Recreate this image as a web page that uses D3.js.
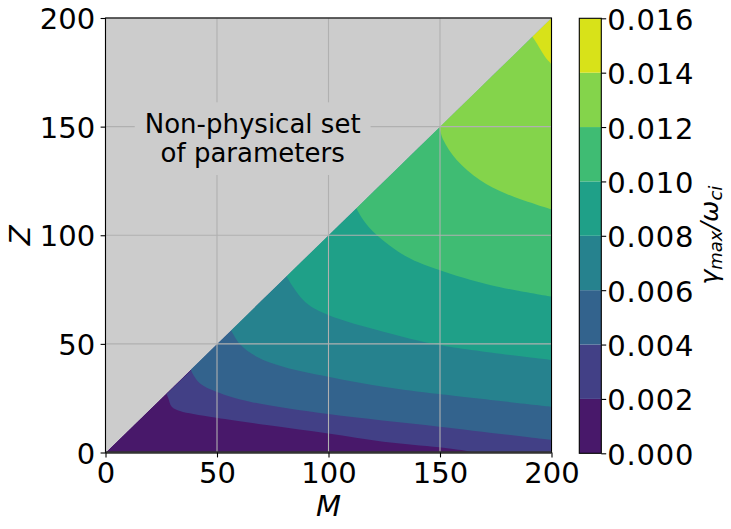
<!DOCTYPE html>
<html>
<head>
<meta charset="utf-8">
<script src="https://cdn.jsdelivr.net/npm/d3@7"></script>
<style>
  body { margin: 0; background: #fff; }
  text { font-family: "DejaVu Sans", sans-serif; fill: #000; }
</style>
</head>
<body>
<svg id="chart" width="731" height="529"></svg>
<script>
// contour levels of gamma_max / omega_ci
const levels = [0, 0.002, 0.004, 0.006, 0.008, 0.010, 0.012, 0.014, 0.016];
const mTicks = [0, 50, 100, 150, 200];
const zTicks = [0, 50, 100, 150, 200];
const cbTicks = [0, 0.002, 0.004, 0.006, 0.008, 0.010, 0.012, 0.014, 0.016];

// level lines as [M, Z] points, each one starts on the Z = M edge
const line002 = [[27.4, 26.9], [28.2, 24.9], [29.7, 21.1], [33.4, 19.1], [39.4, 17.7], [49.7, 16.0],
  [72.3, 12.7], [99.9, 8.8], [124.6, 5.0], [149.7, 2.4], [162, 0.7], [165, 0]];
const line004 = [[38.2, 38.3], [39.4, 35.7], [42.4, 31.8], [49.7, 28.0], [64.8, 23.4], [99.9, 17.7],
  [149.7, 11.9], [200, 5.8]];
const line006 = [[56.3, 56.4], [60.3, 49.8], [67.8, 44.1], [79.7, 39.5], [99.9, 34.9], [124.6, 30.3],
  [149.7, 26.9], [200, 21.1]];
const line008 = [[81.2, 81.2], [83.5, 77.1], [90.2, 68.7], [99.9, 63.3], [124.6, 55.6], [149.7, 49.5],
  [200, 42.6]];
const line010 = [[112.5, 112.4], [115.6, 107.0], [121.6, 100.1], [135.1, 90.1], [149.7, 84.0],
  [172.4, 77.1], [200, 71.7]];
const line012 = [[149.7, 149.7], [151.5, 143.8], [157.5, 134.6], [167.9, 125.4], [179.9, 119.0],
  [200, 111.9]];
const line014 = [[191.4, 191.5], [193.4, 188.4], [197.1, 182.2], [200, 178.8]];
const contourLines = [line002, line004, line006, line008, line010, line012, line014];

const svg = d3.select('#chart');
const plot = { left: 105.5, right: 551.5, top: 18, bottom: 452.5 };
const bar = { left: 579.3, right: 601.3 };
const fontSize = 29;

const x = d3.scaleLinear().domain([0, 200]).range([plot.left, plot.right]);
const y = d3.scaleLinear().domain([0, 200]).range([plot.bottom, plot.top]);
const cbY = d3.scaleLinear().domain([levels[0], levels[levels.length - 1]]).range([plot.bottom + 0.8, plot.top + 0.3]);

// band colours sit at the middle of each level interval
const bandColor = i => d3.interpolateViridis((i + 0.5) / (levels.length - 1));

const curve = d3.line().x(d => x(d[0])).y(d => y(d[1])).curve(d3.curveCatmullRom);

// lowest band fills the whole physical triangle
svg.append('path')
  .attr('d', 'M' + x(0) + ',' + y(0) + 'L' + x(200) + ',' + y(0) + 'L' + x(200) + ',' + y(200) + 'Z')
  .attr('fill', bandColor(0));

// every higher band is whatever lies beyond its level line
contourLines.forEach((pts, i) => {
  const last = pts[pts.length - 1];
  let d = curve(pts);
  if (last[1] === 0) {
    d += 'L' + x(200) + ',' + y(0);
  }
  d += 'L' + x(200) + ',' + y(200) + 'Z';
  svg.append('path')
    .attr('d', d)
    .attr('fill', bandColor(i + 1));
});

// non-physical half (Z > M)
svg.append('path')
  .attr('d', 'M' + x(0) + ',' + y(0) + 'L' + x(0) + ',' + y(200) + 'L' + x(200) + ',' + y(200) + 'Z')
  .attr('fill', '#cccccc');

// grid
const grid = svg.append('g').attr('stroke', '#b0b0b0').attr('stroke-width', 1.1);
mTicks.forEach(t => {
  grid.append('line').attr('x1', x(t)).attr('x2', x(t)).attr('y1', plot.top).attr('y2', plot.bottom);
});
zTicks.forEach(t => {
  grid.append('line').attr('x1', plot.left).attr('x2', plot.right).attr('y1', y(t)).attr('y2', y(t));
});

// annotation with a box that hides the grid
const note = svg.append('g');
const noteBox = note.append('rect').attr('fill', '#cccccc');
const noteText = note.append('text')
  .attr('text-anchor', 'middle')
  .attr('font-size', 26);
noteText.append('tspan').attr('x', x(66)).attr('y', 133.3).text('Non-physical set');
noteText.append('tspan').attr('x', x(66)).attr('y', 162).text('of parameters');
const nb = noteText.node().getBBox();
noteBox.attr('x', nb.x - 10).attr('y', nb.y - 7).attr('width', nb.width + 20).attr('height', nb.height + 14);

// spines
svg.append('rect')
  .attr('x', plot.left).attr('y', plot.top)
  .attr('width', plot.right - plot.left).attr('height', plot.bottom - plot.top)
  .attr('fill', 'none').attr('stroke', '#000').attr('stroke-width', 1.1);
svg.append('line')
  .attr('x1', plot.left).attr('x2', plot.right)
  .attr('y1', plot.bottom).attr('y2', plot.bottom)
  .attr('stroke', '#333').attr('stroke-width', 2.6);

// axes
const xAxis = svg.append('g')
  .attr('transform', 'translate(0,' + plot.bottom + ')')
  .call(d3.axisBottom(x).tickValues(mTicks).tickSize(4.9).tickPadding(5).tickFormat(d3.format('d')));
const yAxis = svg.append('g')
  .attr('transform', 'translate(' + plot.left + ',0)')
  .call(d3.axisLeft(y).tickValues(zTicks).tickSize(4.9).tickPadding(5.5).tickFormat(d3.format('d')));
[xAxis, yAxis].forEach(a => {
  a.select('.domain').remove();
  a.selectAll('line').attr('stroke', '#000').attr('stroke-width', 1.1);
  a.selectAll('text').attr('font-size', fontSize).attr('font-family', '"DejaVu Sans", sans-serif').attr('fill', '#000');
});
yAxis.selectAll('text').attr('dy', '0.37em');

svg.append('text')
  .attr('x', x(100)).attr('y', 516)
  .attr('text-anchor', 'middle')
  .attr('font-size', fontSize)
  .attr('font-style', 'italic')
  .text('M');
svg.append('text')
  .attr('transform', 'translate(30,' + ((plot.top + plot.bottom) / 2) + ') rotate(-90)')
  .attr('text-anchor', 'middle')
  .attr('font-size', fontSize)
  .attr('font-style', 'italic')
  .text('Z');

// colorbar
const cb = svg.append('g');
d3.range(levels.length - 1).forEach(i => {
  cb.append('rect')
    .attr('x', bar.left)
    .attr('y', cbY(levels[i + 1]))
    .attr('width', bar.right - bar.left)
    .attr('height', cbY(levels[i]) - cbY(levels[i + 1]))
    .attr('fill', bandColor(i));
});
cb.append('rect')
  .attr('x', bar.left).attr('y', cbY(levels[levels.length - 1]))
  .attr('width', bar.right - bar.left)
  .attr('height', cbY(levels[0]) - cbY(levels[levels.length - 1]))
  .attr('fill', 'none').attr('stroke', '#000').attr('stroke-width', 1.1);
const cbAxis = svg.append('g')
  .attr('transform', 'translate(' + bar.right + ',0)')
  .call(d3.axisRight(cbY).tickValues(cbTicks).tickSize(4.9).tickPadding(1).tickFormat(d3.format('.3f')));
cbAxis.select('.domain').remove();
cbAxis.selectAll('line').attr('stroke', '#000').attr('stroke-width', 1.1);
cbAxis.selectAll('text')
  .attr('font-size', fontSize)
  .attr('font-family', '"DejaVu Sans", sans-serif')
  .attr('letter-spacing', 0.8)
  .attr('fill', '#000')
  .attr('dy', '0.38em');

const cbLabel = svg.append('text')
  .attr('transform', 'translate(718,' + ((plot.top + plot.bottom) / 2) + ') rotate(-90)')
  .attr('text-anchor', 'middle')
  .attr('font-size', 25.5)
  .attr('font-style', 'italic');
cbLabel.append('tspan').text('γ');
cbLabel.append('tspan').attr('font-size', 18).attr('dy', 4).text('max');
cbLabel.append('tspan').attr('dy', -4).text('/ω');
cbLabel.append('tspan').attr('font-size', 18).attr('dy', 4).text('ci');
</script>
</body>
</html>
